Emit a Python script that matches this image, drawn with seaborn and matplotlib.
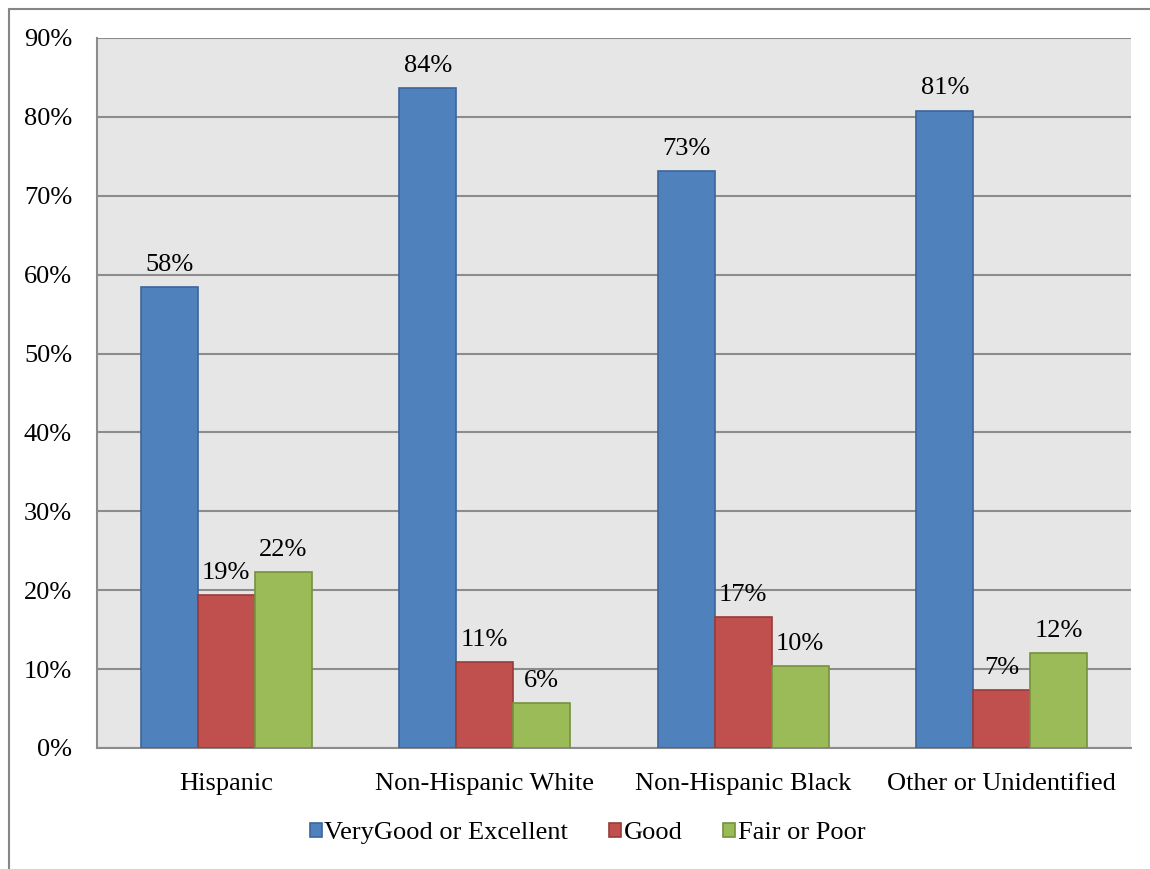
import matplotlib
matplotlib.use("Agg")
import matplotlib.pyplot as plt
import seaborn as sns
import pandas as pd
from matplotlib.lines import Line2D
from matplotlib.patches import Patch

groups = ["Hispanic", "Non-Hispanic White", "Non-Hispanic Black", "Other or Unidentified"]
ratings = ["VeryGood or Excellent", "Good", "Fair or Poor"]
very_good_excellent = [58.4, 83.6, 73.1, 80.8]
good = [19.4, 10.9, 16.6, 7.4]
fair_poor = [22.3, 5.7, 10.4, 12.0]
yticks = [0, 10, 20, 30, 40, 50, 60, 70, 80, 90]

face_colors = ["#4f81bd", "#c0504d", "#9bbb59"]
edge_colors = ["#3b669a", "#9a3b38", "#76913f"]

rows = []
for rating, vals in zip(ratings, [very_good_excellent, good, fair_poor]):
    for g, v in zip(groups, vals):
        rows.append({"group": g, "rating": rating, "value": v})
df = pd.DataFrame(rows)

sns.set_style("white")
plt.rcParams["font.family"] = ["Liberation Serif", "DejaVu Serif"]
plt.rcParams["text.color"] = "black"
plt.rcParams["xtick.labelcolor"] = "black"
plt.rcParams["ytick.labelcolor"] = "black"

FS = 19

fig = plt.figure(figsize=(11.5, 8.69), dpi=100)
ax = fig.add_axes([97 / 1150, 1 - 748 / 869, (1131 - 97) / 1150, (748 - 38) / 869])
ax.set_facecolor("#e6e6e6")

sns.barplot(data=df, x="group", y="value", hue="rating", order=groups,
            hue_order=ratings, palette=face_colors, width=0.66,
            saturation=1, errorbar=None, legend=False, ax=ax, zorder=3)

for container, ec in zip(ax.containers, edge_colors):
    for bar in container:
        bar.set_edgecolor(ec)
        bar.set_linewidth(1.2)
    ax.bar_label(container, labels=[f"{b.get_height():.0f}%" for b in container],
                 padding=8, fontsize=FS, color="black")

ax.set_ylim(0, 90)
ax.set_xlim(-0.5, 3.5)
ax.set_yticks(yticks)
ax.set_yticklabels([f"{t}%" for t in yticks], fontsize=FS, color="black")
ax.yaxis.grid(True, color="#8c8c8c", linewidth=1.5, zorder=1)
ax.set_axisbelow(True)

# category boundary ticks on x axis
ax.set_xticks([-0.5, 0.5, 1.5, 2.5, 3.5], minor=True)
ax.set_xticks(range(len(groups)))
ax.set_xticklabels(groups, fontsize=FS, color="black")
ax.tick_params(axis="x", which="major", length=0, pad=18)
ax.tick_params(axis="x", which="minor", length=8, width=1.5, color="#8c8c8c", direction="out")
ax.tick_params(axis="y", length=8, width=1.5, color="#8c8c8c", direction="out", pad=10)
ax.set_xlabel("")
ax.set_ylabel("")

for side in ["top", "right"]:
    ax.spines[side].set_visible(False)
for side in ["left", "bottom"]:
    ax.spines[side].set_color("#8c8c8c")
    ax.spines[side].set_linewidth(1.5)

handles = [Patch(facecolor=fc, edgecolor=ec, linewidth=1.2) for fc, ec in zip(face_colors, edge_colors)]
fig.legend(handles, ratings, loc="center", bbox_to_anchor=(0.511, 1 - 833 / 869),
           ncol=3, frameon=False, fontsize=FS, handlelength=0.45, handleheight=0.45,
           handletextpad=0.1, columnspacing=1.55)

# outer chart frame (left and top edges)
fig.add_artist(Line2D([8.5 / 1150, 8.5 / 1150], [0, 1 - 9 / 869], transform=fig.transFigure,
                      color="#868686", linewidth=1.5))
fig.add_artist(Line2D([8.5 / 1150, 1], [1 - 9 / 869, 1 - 9 / 869], transform=fig.transFigure,
                      color="#868686", linewidth=1.5))

fig.savefig("out.png", dpi=100)
